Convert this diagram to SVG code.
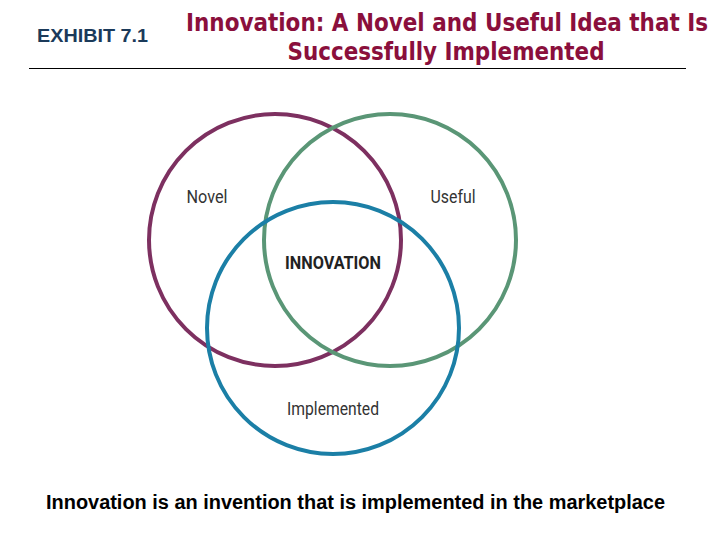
<svg xmlns="http://www.w3.org/2000/svg" width="720" height="540" viewBox="0 0 720 540">
<style>
.c{fill:none;stroke-width:4}
.lbl{font-family:Roboto,"Liberation Sans",sans-serif;font-size:18px;fill:#333}
</style>
<rect width="720" height="540" fill="#fff"/>
<text x="37" y="42" font-family="Liberation Sans, Arial, sans-serif" font-weight="bold" font-size="19" fill="#1b3a5a" textLength="111" lengthAdjust="spacingAndGlyphs">EXHIBIT 7.1</text>
<g font-family="DejaVu Sans, Verdana, sans-serif" font-stretch="condensed" font-weight="bold" font-size="24" fill="#8a0f3c" text-anchor="middle">
<text x="447" y="31" textLength="522" lengthAdjust="spacingAndGlyphs">Innovation: A Novel and Useful Idea that Is</text>
<text x="446" y="60" textLength="317" lengthAdjust="spacingAndGlyphs">Successfully Implemented</text>
</g>
<line x1="29" y1="68.5" x2="686" y2="68.5" stroke="#000" stroke-width="1"/>
<g id="novel"><circle class="c" cx="275" cy="240" r="126" stroke="#7d3060"/><text class="lbl" x="207" y="203" text-anchor="middle" textLength="41" lengthAdjust="spacingAndGlyphs">Novel</text></g>
<g id="useful"><circle class="c" cx="390" cy="240" r="126" stroke="#5a9676"/><text class="lbl" x="453" y="203" text-anchor="middle" textLength="45" lengthAdjust="spacingAndGlyphs">Useful</text></g>
<g id="implemented"><circle class="c" cx="333" cy="328" r="126" stroke="#1b7fa6"/><text class="lbl" x="333" y="415" text-anchor="middle" textLength="92" lengthAdjust="spacingAndGlyphs">Implemented</text></g>
<g id="innovation"><text x="333" y="269" text-anchor="middle" font-family="Roboto, Liberation Sans, sans-serif" font-weight="bold" font-size="19" fill="#222" textLength="96" lengthAdjust="spacingAndGlyphs">INNOVATION</text></g>
<g id="connectors"></g>
<text x="46" y="509" font-family="Liberation Sans, Arial, sans-serif" font-weight="bold" font-size="20" fill="#000" textLength="619" lengthAdjust="spacingAndGlyphs">Innovation is an invention that is implemented in the marketplace</text>
</svg>
